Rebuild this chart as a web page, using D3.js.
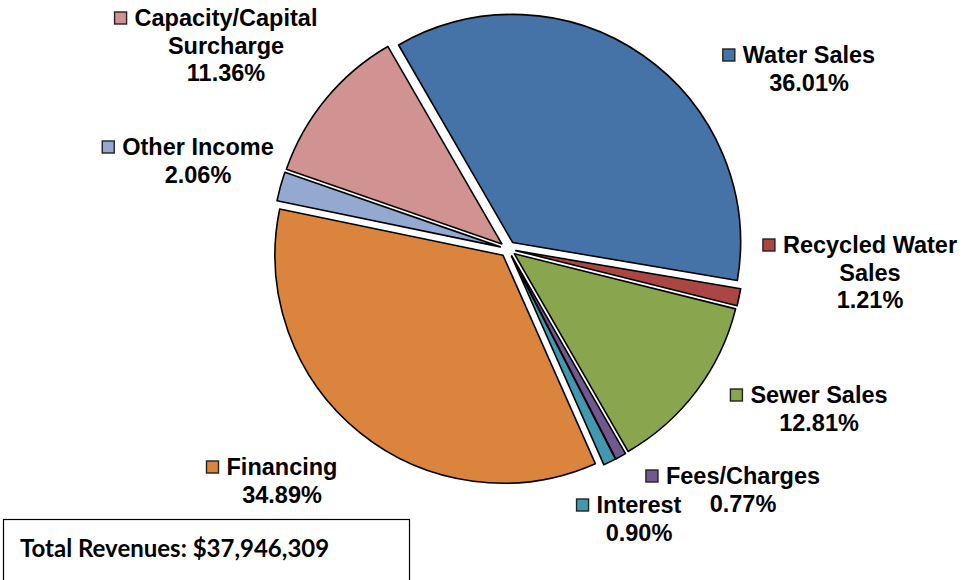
<!DOCTYPE html>
<html><head><meta charset="utf-8">
<script src="https://cdn.jsdelivr.net/npm/d3@7"></script>
<style>
body{margin:0;background:#fff;}
svg{display:block;}
</style></head>
<body>
<svg id="chart" width="964" height="580"></svg>
<script>
const categories = ["Water Sales","Recycled Water Sales","Sewer Sales","Fees/Charges","Interest","Financing","Other Income","Capacity/Capital Surcharge"];
const percents = [36.01,1.21,12.81,0.77,0.90,34.89,2.06,11.36];
const colors = ["#4572A7","#AA4643","#89A54E","#71588F","#4198AF","#DB843D","#93A9CF","#D19392"];
const labelLines = [["Water Sales","36.01%"],["Recycled Water","Sales","1.21%"],["Sewer Sales","12.81%"],["Fees/Charges","0.77%"],["Interest","0.90%"],["Financing","34.89%"],["Other Income","2.06%"],["Capacity/Capital","Surcharge","11.36%"]];
const totalText = "Total Revenues: $37,946,309";

// layout (not data)
const cx = 508, cy = 249, R = 228, explode = 8;
const labelAnchor = [[809,55],[870,245],[819,395],[743,476],[639,505],[282,467],[198,147],[226,18]];
const lineH = 27.5;

const svg = d3.select("#chart");
const pie = d3.pie().sort(null).value(d=>d).startAngle(-30*Math.PI/180).endAngle(330*Math.PI/180);
const arcs = pie(percents);
const arc = d3.arc().innerRadius(0).outerRadius(R);

const g = svg.append("g").attr("transform",`translate(${cx},${cy})`);
g.selectAll("path").data(arcs).enter().append("path")
  .attr("d",arc)
  .attr("fill",(d,i)=>colors[i])
  .attr("stroke","#000").attr("stroke-width",1.6).attr("stroke-linejoin","round")
  .attr("transform",d=>{const m=(d.startAngle+d.endAngle)/2;return `translate(${explode*Math.sin(m)},${-explode*Math.cos(m)})`;});

const font = "'Liberation Sans', Arial, sans-serif";
const fs = 23.5;
labelLines.forEach((lines,i)=>{
  const [ax,ay] = labelAnchor[i];
  const lg = svg.append("g");
  lines.forEach((t,j)=>{
    const y = ay + j*lineH;
    const txt = lg.append("text").attr("x",ax).attr("y",y).attr("dy","0.35em")
      .attr("text-anchor","middle").attr("font-family",font).attr("font-weight","bold")
      .attr("font-size",fs).attr("fill","#000").text(t);
    if(j===0){
      const w = txt.node().getComputedTextLength();
      const keyW = 12, gap = 8;
      const left = ax - w/2 - gap - keyW;
      lg.append("rect").attr("x",left).attr("y",y-6).attr("width",keyW).attr("height",keyW)
        .attr("fill",colors[i]).attr("stroke","#222").attr("stroke-width",1.4);
    }
  });
});

svg.append("rect").attr("x",3.5).attr("y",519.5).attr("width",406).attr("height",80)
  .attr("fill","#fff").attr("stroke","#000").attr("stroke-width",1.2);
svg.append("text").attr("x",20).attr("y",557).attr("font-family","Lato, 'Open Sans', sans-serif")
  .attr("font-weight","bold").attr("font-size",24).attr("fill","#000").text(totalText);
</script>
</body></html>
